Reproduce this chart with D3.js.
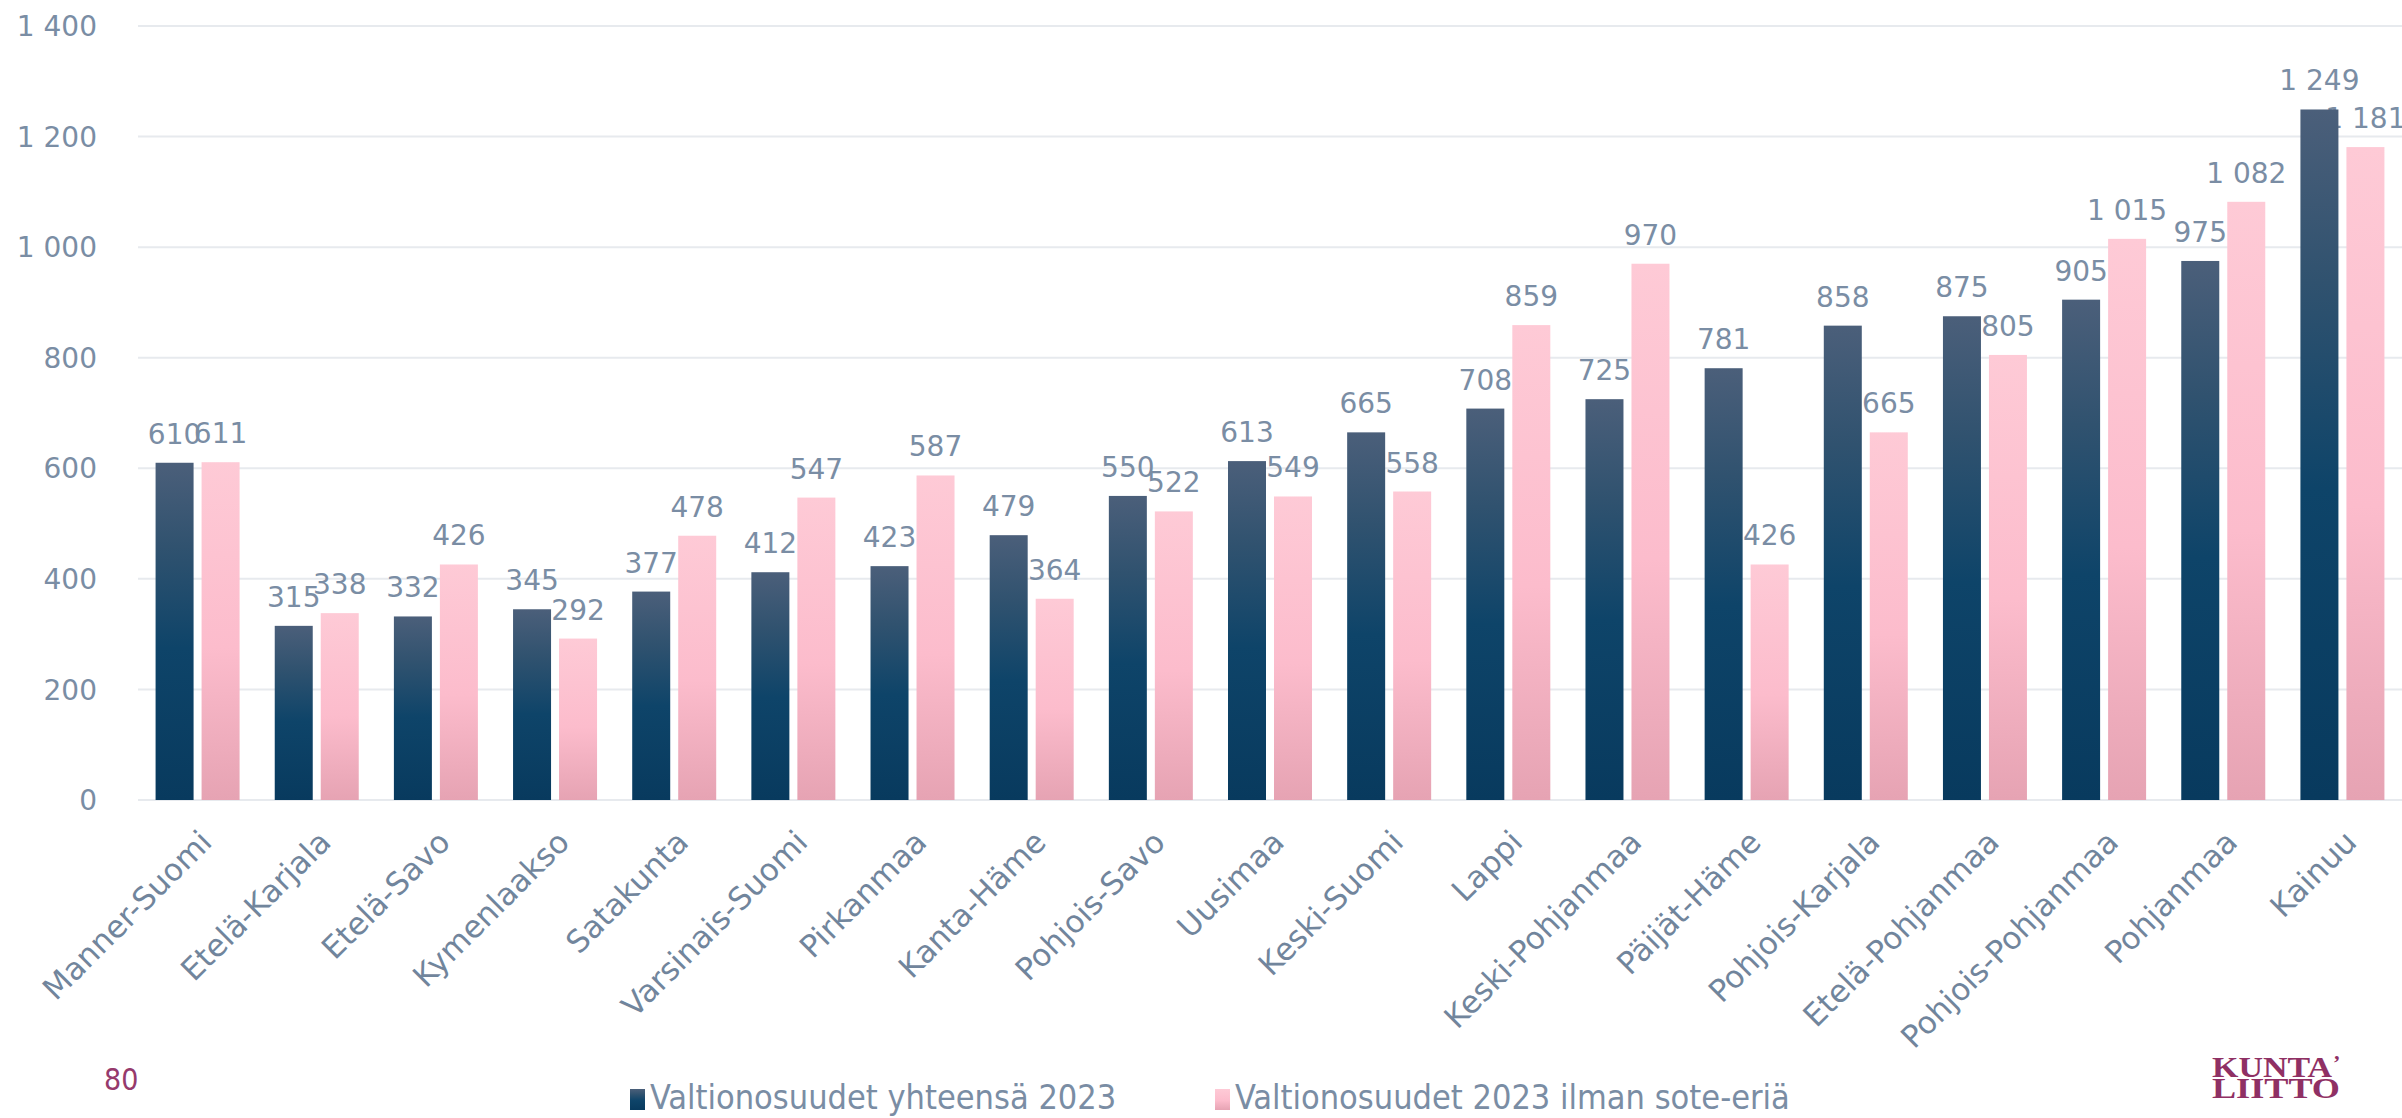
<!DOCTYPE html>
<html>
<head>
	<meta charset="utf-8">
	<title>Valtionosuudet 2023</title>
	<style>
		body { margin: 0; background: #fff; }
		svg { display: block; }
		.tick-label, .value-label, .cat-label {
			font-family: 'DejaVu Sans', sans-serif;
			font-size: 28px;
			fill: #7a8da4;
		}
		.cat-label { fill: #71859c; font-size: 31px; }
		.legend-label {
			font-family: 'DejaVu Sans Condensed', 'DejaVu Sans', sans-serif;
			font-stretch: condensed;
			font-size: 34px;
			fill: #7a8da4;
		}
	</style>
</head>
<body>
<svg width="2402" height="1118"></svg>
<script src="https://d3js.org/d3.v7.min.js"></script>
<script>

	const categories = ['Manner-Suomi', 'Etelä-Karjala', 'Etelä-Savo', 'Kymenlaakso', 'Satakunta',
		'Varsinais-Suomi', 'Pirkanmaa', 'Kanta-Häme', 'Pohjois-Savo', 'Uusimaa', 'Keski-Suomi',
		'Lappi', 'Keski-Pohjanmaa', 'Päijät-Häme', 'Pohjois-Karjala', 'Etelä-Pohjanmaa',
		'Pohjois-Pohjanmaa', 'Pohjanmaa', 'Kainuu']

	const totals = [610, 315, 332, 345, 377, 412, 423, 479, 550, 613, 665, 708, 725, 781, 858, 875, 905, 975, 1249]
	const withoutSote = [611, 338, 426, 292, 478, 547, 587, 364, 522, 549, 558, 859, 970, 426, 665, 805, 1015, 1082, 1181]

	const seriesNames = ['Valtionosuudet yhteensä 2023', 'Valtionosuudet 2023 ilman sote-eriä']
	const yTicks = [0, 200, 400, 600, 800, 1000, 1200, 1400]

	const svg = d3.select('svg')

	// finnish style numbers: 1 249
	const fi = d3.formatLocale({decimal: ',', thousands: '\u00a0', grouping: [3], currency: ['', ' €']})
	const fmt = fi.format(',d')

	const plotLeft = 138, plotRight = 2402, plotTop = 26, plotBottom = 800

	const x = d3.scaleBand()
		.domain(categories)
		.range([plotLeft, plotRight])

	const y = d3.scaleLinear()
		.domain([0, 1400])
		.range([plotBottom, plotTop])

	const barW = 38, gap = 8

	// gradients
	const defs = svg.append('defs')
	const gDark = defs.append('linearGradient').attr('id', 'gDark').attr('x1', 0).attr('y1', 0).attr('x2', 0).attr('y2', 1)
	gDark.append('stop').attr('offset', '0%').attr('stop-color', '#4b5f7a')
	gDark.append('stop').attr('offset', '25%').attr('stop-color', '#30526f')
	gDark.append('stop').attr('offset', '55%').attr('stop-color', '#0e4469')
	gDark.append('stop').attr('offset', '100%').attr('stop-color', '#083a5e')

	const gPink = defs.append('linearGradient').attr('id', 'gPink').attr('x1', 0).attr('y1', 0).attr('x2', 0).attr('y2', 1)
	gPink.append('stop').attr('offset', '0%').attr('stop-color', '#fecad6')
	gPink.append('stop').attr('offset', '55%').attr('stop-color', '#fcbccc')
	gPink.append('stop').attr('offset', '100%').attr('stop-color', '#e6a3b3')

	// gridlines + y labels
	svg.append('g')
		.selectAll('line')
		.data(yTicks)
		.join('line')
		.attr('x1', plotLeft)
		.attr('x2', plotRight)
		.attr('y1', d => y(d))
		.attr('y2', d => y(d))
		.attr('stroke', '#e7eaee')
		.attr('stroke-width', 2)

	svg.append('g')
		.selectAll('text')
		.data(yTicks)
		.join('text')
		.attr('class', 'tick-label')
		.attr('x', 97)
		.attr('y', d => y(d))
		.attr('dy', '0.36em')
		.style('text-anchor', 'end')
		.text(d => fmt(d))

	const series = [
		{values: totals, offset: -gap / 2 - barW, fill: 'url(#gDark)'},
		{values: withoutSote, offset: gap / 2, fill: 'url(#gPink)'}
	]

	const cx = d => x(d) + x.bandwidth() / 2

	// value labels (drawn under the bars, like the original)
	series.forEach(s => {
		svg.append('g')
			.selectAll('text')
			.data(categories)
			.join('text')
			.attr('class', 'value-label')
			.attr('x', (d, i) => cx(d) + s.offset + barW / 2)
			.attr('y', (d, i) => y(s.values[i]) - 19)
			.style('text-anchor', 'middle')
			.text((d, i) => fmt(s.values[i]))
	})

	series.forEach(s => {
		svg.append('g')
			.selectAll('rect')
			.data(categories)
			.join('rect')
			.attr('x', d => cx(d) + s.offset)
			.attr('width', barW)
			.attr('y', (d, i) => y(s.values[i]))
			.attr('height', (d, i) => y(0) - y(s.values[i]))
			.attr('fill', s.fill)
	})

	// category labels
	svg.append('g')
		.selectAll('text')
		.data(categories)
		.join('text')
		.attr('class', 'cat-label')
		.attr('transform', d => `translate(${cx(d) + 16}, ${plotBottom + 44}) rotate(-45)`)
		.style('text-anchor', 'end')
		.text(d => d)

	// legend
	const legend = [
		{name: seriesNames[0], fill: 'url(#gDark)', x: 630},
		{name: seriesNames[1], fill: 'url(#gPink)', x: 1215}
	]
	const lg = svg.append('g')
	legend.forEach(l => {
		lg.append('rect')
			.attr('x', l.x)
			.attr('y', 1089)
			.attr('width', 15)
			.attr('height', 21)
			.attr('fill', l.fill)
		lg.append('text')
			.attr('class', 'legend-label')
			.attr('x', l.x + 20)
			.attr('y', 1109)
			.text(l.name)
	})

	// page number
	svg.append('text')
		.attr('x', 104)
		.attr('y', 1090)
		.style('font-family', "'DejaVu Sans Condensed', 'DejaVu Sans', sans-serif")
		.style('font-stretch', 'condensed')
		.style('font-size', '30px')
		.style('fill', '#963a6c')
		.text('80')

	// logo
	const logo = svg.append('g').style('font-family', "'Liberation Serif', serif")
		.style('font-weight', 'bold').style('fill', '#8f3064')
	logo.append('text').attr('x', 2212).attr('y', 1077)
		.style('font-size', '29px')
		.attr('textLength', 120).attr('lengthAdjust', 'spacingAndGlyphs')
		.text('KUNTA')
	logo.append('text').attr('x', 2333).attr('y', 1070)
		.style('font-size', '22px')
		.text('\u2019')
	logo.append('text').attr('x', 2212).attr('y', 1098)
		.style('font-size', '29px')
		.attr('textLength', 128).attr('lengthAdjust', 'spacingAndGlyphs')
		.text('LIITTO')

</script>
</body>
</html>
